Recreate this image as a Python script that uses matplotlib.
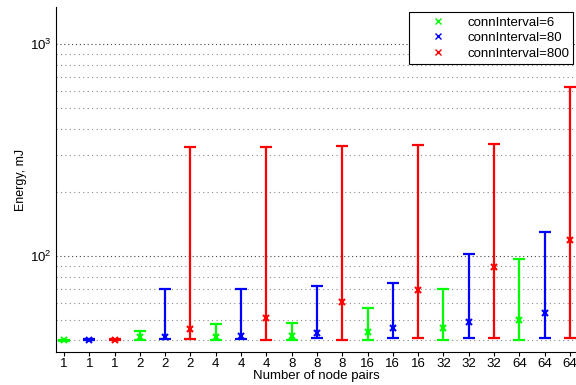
import numpy as np
import matplotlib
matplotlib.use("Agg")
import matplotlib.pyplot as plt
from matplotlib.lines import Line2D

plt.rcParams['font.family'] = ['Liberation Sans', 'DejaVu Sans']

node_pairs = [1, 2, 4, 8, 16, 32, 64]
intervals = [6, 80, 800]
colors = ['#00ff00', '#0000ff', '#ff0000']

# energy (mJ) per node-pair count: mean, min, max
mean_6 = [40.0, 41.7, 41.4, 41.9, 43.8, 45.6, 49.9]
low_6 = [39.8, 40.0, 40.0, 40.0, 40.0, 40.0, 40.0]
high_6 = [40.4, 44.4, 48.1, 48.5, 56.9, 69.9, 97.5]

mean_80 = [40.4, 41.7, 42.2, 43.4, 45.6, 49.0, 53.7]
low_80 = [40.1, 40.8, 40.8, 41.0, 40.9, 40.9, 40.9]
high_80 = [40.7, 69.9, 69.9, 72.4, 74.8, 102, 130]

mean_800 = [40.4, 45.4, 50.9, 60.9, 69.1, 89.1, 119]
low_800 = [40.1, 40.6, 40.0, 40.0, 40.9, 41.0, 41.0]
high_800 = [40.7, 328, 328, 331, 335, 337, 626]

means = [mean_6, mean_80, mean_800]
lows = [low_6, low_80, low_800]
highs = [high_6, high_80, high_800]

fig = plt.figure(figsize=(5.76, 3.85), dpi=100)
ax = fig.add_axes([56 / 576, 1 - 352 / 385, 1 - 56 / 576, 345 / 385])

n_int = len(intervals)
for k in range(n_int):
    pos = np.arange(len(node_pairs)) * n_int + k + 1
    m = np.array(means[k])
    lo = m - np.array(lows[k])
    hi = np.array(highs[k]) - m
    ax.errorbar(pos, m, yerr=[lo, hi], fmt='none', ecolor=colors[k],
                elinewidth=1.6, capsize=4, capthick=1.6, zorder=3)
    ax.plot(pos, m, 'x', color=colors[k], markersize=4, mew=1.5, zorder=4)

ax.set_yscale('log')
ax.set_ylim(35.3, 1500)
ax.set_xlim(0.684, 21.24)

ticks = np.arange(1, len(node_pairs) * n_int + 1)
ax.set_xticks(ticks)
ax.set_xticklabels([str(n) for n in node_pairs for _ in intervals])

ax.grid(True, which='major', axis='y', color='#444444', linestyle=(0, (1, 2.5)), linewidth=0.8)
ax.grid(True, which='minor', axis='y', color='#888888', linestyle=(0, (1, 3)), linewidth=0.8)
ax.grid(False, axis='x')

ax.spines['top'].set_visible(False)
ax.spines['right'].set_visible(False)
ax.tick_params(axis='x', direction='out', length=3, labelsize=9.5, pad=1.5)
ax.tick_params(axis='y', which='both', direction='in', length=0, labelsize=9.5)

ax.set_xlabel('Number of node pairs', fontsize=9.5, labelpad=0)
ax.set_ylabel('Energy, mJ', fontsize=9)
ax.yaxis.set_label_coords(-0.055, 0.5)

handles = [Line2D([], [], marker='x', linestyle='none', color=c, markersize=4, mew=1)
           for c in colors]
names = ['connInterval=%d' % i for i in intervals]
leg = fig.legend(handles, names, loc='upper right', bbox_to_anchor=(0.995, 0.968),
                 fontsize=9.5, frameon=True, fancybox=False, edgecolor='black',
                 framealpha=1, handlelength=3.8, handletextpad=0.3, borderpad=0.3,
                 labelspacing=0.25, borderaxespad=0)
leg.get_frame().set_linewidth(0.8)

fig.savefig('out.png', dpi=100)
